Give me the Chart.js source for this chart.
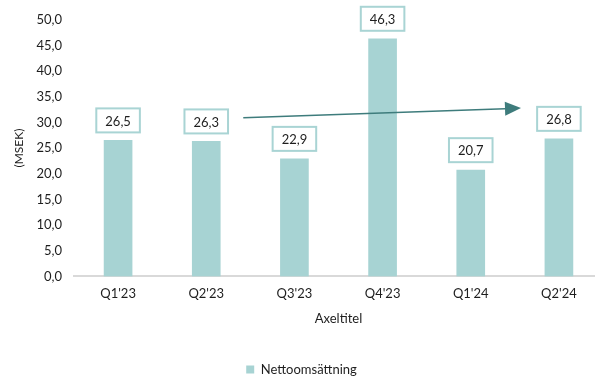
<!DOCTYPE html>
<html>
<head>
<meta charset="utf-8">
<script src="https://cdn.jsdelivr.net/npm/chart.js@4"></script>
<style>
    html, body { margin: 0; padding: 0; background: #fff; }
    #wrap { width: 595px; height: 377px; overflow: hidden; }
</style>
</head>
<body>
<div id="wrap">
    <canvas id="salesChart" width="607" height="386"></canvas>
</div>
<script>
const quarters = ["Q1'23", "Q2'23", "Q3'23", "Q4'23", "Q1'24", "Q2'24"];
const netSales = [26.5, 26.3, 22.9, 46.3, 20.7, 26.8];
const seriesName = 'Nettoomsättning';
const xTitle = 'Axeltitel';
const yTitle = '(MSEK)';

const barColor = '#a7d3d3';
const boxBorder = '#a9d4d4';
const arrowColor = '#3e7c7c';
const textColor = '#1e1e1e';
const fontFamily = 'Lato, "Open Sans", sans-serif';

const fmt = (v) => v.toFixed(1).replace('.', ',');

// boxed value label above every bar
const valueBoxes = {
    id: 'valueBoxes',
    afterDatasetsDraw: (chart) => {
        const ctx = chart.ctx;
        const meta = chart.getDatasetMeta(0);
        ctx.save();
        ctx.font = '13px ' + fontFamily;
        ctx.textAlign = 'center';
        ctx.textBaseline = 'middle';
        meta.data.forEach((bar, i) => {
            const txt = fmt(chart.data.datasets[0].data[i]);
            const w = ctx.measureText(txt).width + 18;
            const h = 24;
            const bottom = bar.y - 8;
            ctx.fillStyle = '#fff';
            ctx.fillRect(bar.x - w / 2, bottom - h, w, h);
            ctx.strokeStyle = boxBorder;
            ctx.lineWidth = 2;
            ctx.strokeRect(bar.x - w / 2, bottom - h, w, h);
            ctx.fillStyle = textColor;
            ctx.fillText(txt, bar.x, bottom - h / 2 + 1);
        });
        ctx.restore();
    }
};

// trend arrow from Q2'23 towards Q2'24
const trendArrow = {
    id: 'trendArrow',
    afterDatasetsDraw: (chart) => {
        const x = chart.scales.x;
        const y = chart.scales.y;
        const step = x.getPixelForValue(1) - x.getPixelForValue(0);
        const x1 = x.getPixelForValue(1) + step * 0.42;
        const x2 = x.getPixelForValue(5) - step * 0.43;
        const y1 = y.getPixelForValue(30.9);
        const y2 = y.getPixelForValue(32.8);
        const ang = Math.atan2(y2 - y1, x2 - x1);
        const len = 16;
        const half = 7;
        const ctx = chart.ctx;
        ctx.save();
        ctx.strokeStyle = arrowColor;
        ctx.fillStyle = arrowColor;
        ctx.lineWidth = 1.5;
        ctx.beginPath();
        ctx.moveTo(x1, y1);
        ctx.lineTo(x2 - Math.cos(ang) * len, y2 - Math.sin(ang) * len);
        ctx.stroke();
        ctx.translate(x2, y2);
        ctx.rotate(ang);
        ctx.beginPath();
        ctx.moveTo(0, 0);
        ctx.lineTo(-len, -half);
        ctx.lineTo(-len, half);
        ctx.closePath();
        ctx.fill();
        ctx.restore();
    }
};

const ctx = document.getElementById('salesChart');
new Chart(ctx, {
    type: 'bar',
    data: {
        labels: quarters,
        datasets: [
            {
                label: seriesName,
                data: netSales,
                backgroundColor: barColor,
                barThickness: 28
            }
        ]
    },
    options: {
        responsive: false,
        animation: false,
        layout: { padding: { top: 16, right: 4, left: 0, bottom: 0 } },
        plugins: {
            tooltip: { enabled: false },
            legend: {
                position: 'bottom',
                labels: {
                    boxWidth: 8,
                    boxHeight: 8,
                    padding: 4,
                    color: textColor,
                    font: { family: fontFamily, size: 13 }
                }
            }
        },
        scales: {
            x: {
                grid: { display: false, drawTicks: false },
                border: { display: true, color: '#d9d9d9', width: 2 },
                ticks: {
                    padding: 10,
                    color: textColor,
                    font: { family: fontFamily, size: 13 }
                },
                title: {
                    display: true,
                    text: xTitle,
                    color: textColor,
                    font: { family: fontFamily, size: 13, lineHeight: 1 },
                    padding: { top: 0, bottom: 34 }
                }
            },
            y: {
                min: 0,
                max: 50,
                afterFit: (scale) => { scale.width = 74; },
                grid: { display: false, drawTicks: false },
                border: { display: false },
                ticks: {
                    stepSize: 5,
                    padding: 12,
                    color: textColor,
                    font: { family: fontFamily, size: 13 },
                    callback: (v) => fmt(v)
                },
                title: {
                    display: true,
                    text: yTitle,
                    color: textColor,
                    font: { family: fontFamily, size: 12 },
                    padding: { top: 12, bottom: 0 }
                }
            }
        }
    },
    plugins: [valueBoxes, trendArrow]
});
</script>
</body>
</html>
